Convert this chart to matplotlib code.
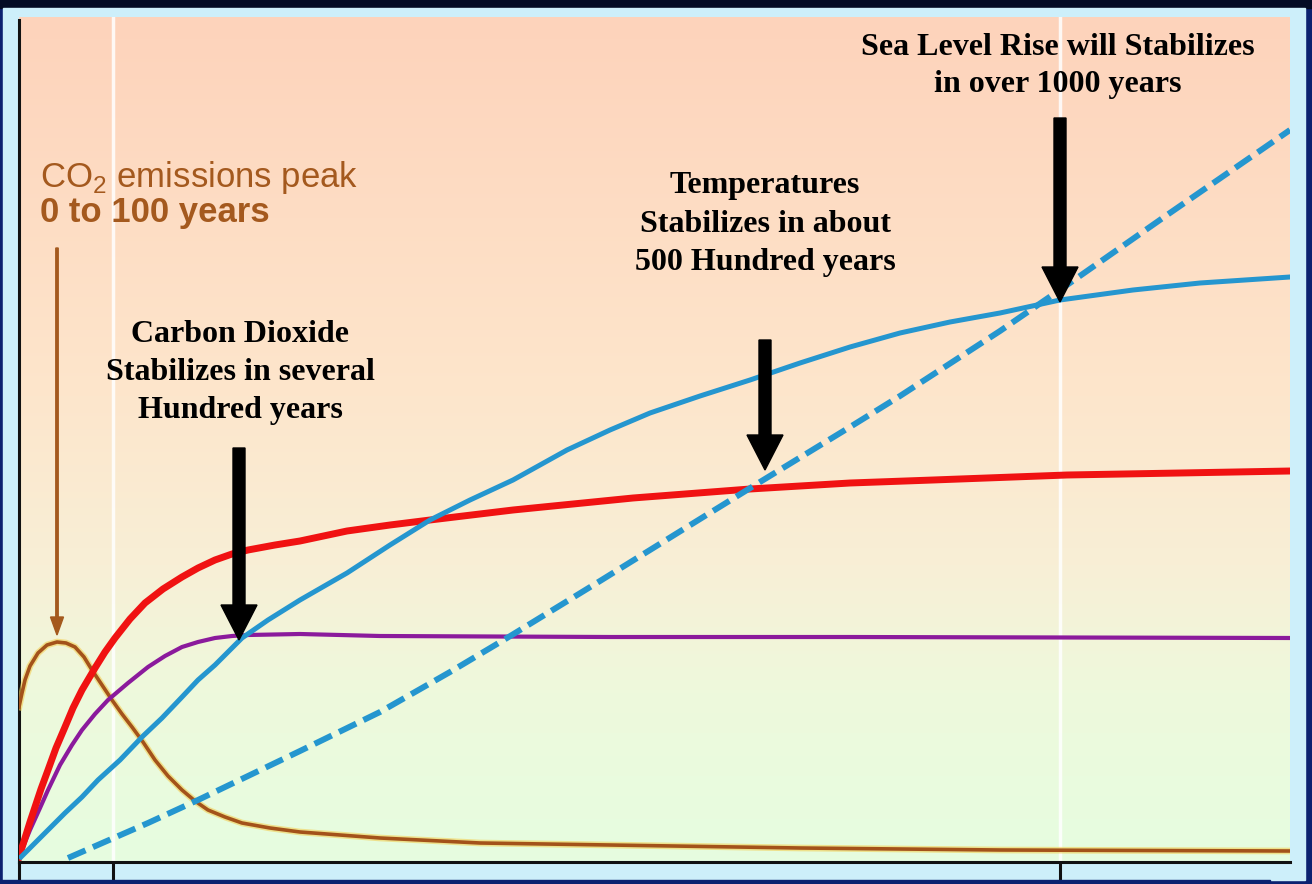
import numpy as np
import matplotlib
matplotlib.use("Agg")
import matplotlib.pyplot as plt
from matplotlib.colors import LinearSegmentedColormap
from matplotlib.patches import Rectangle
import matplotlib.patheffects as pe

plt.rcParams['mathtext.fontset'] = 'custom'
plt.rcParams['mathtext.rm'] = 'Liberation Sans'

# values (arbitrary time units / arbitrary response units)
emis_x = [0, 3, 6, 11, 19, 28, 38, 47, 56, 65, 73, 83, 93, 103, 113, 124, 136, 149, 163, 176,
          189, 206, 223, 251, 281, 361, 461, 591, 781, 981, 1271]
emis_y = [155, 169, 182, 196, 209, 217, 220, 219, 215, 205, 192, 177, 162, 148, 135, 120, 102, 86, 72, 61,
          52, 45, 39, 34, 30, 24, 19, 17, 14, 12, 11]

temp_x = [0, 6, 11, 16, 22, 29, 37, 46, 54, 63, 76, 86, 96, 111, 126, 144, 163, 179, 196, 213, 229,
          256, 281, 328, 371, 411, 494, 614, 731, 831, 914, 1048, 1161, 1271]
temp_y = [5, 24, 40, 55, 73, 92, 114, 135, 154, 172, 194, 210, 224, 243, 259, 273, 285, 294, 302, 308, 312,
          317, 321, 331, 337, 342, 352, 364, 373, 379, 382, 387, 389, 391]

co2_x = [0, 11, 21, 29, 41, 53, 63, 76, 89, 109, 129, 146, 163, 179, 196, 213, 229, 281, 361, 591, 831, 1271]
co2_y = [5, 32, 54, 72, 97, 117, 132, 148, 162, 179, 195, 206, 215, 220, 224, 226, 227, 228, 226, 225, 225, 224]

thermal_x = [2, 24, 46, 63, 79, 101, 123, 143, 163, 179, 196, 223, 249, 281, 328, 371, 411, 451, 494,
             548, 591, 631, 681, 731, 781, 831, 881, 931, 981, 1041, 1114, 1181, 1271]
thermal_y = [5, 27, 49, 65, 82, 102, 125, 144, 165, 182, 197, 224, 242, 262, 289, 317, 342, 362, 382,
             412, 432, 449, 466, 482, 499, 515, 529, 540, 549, 562, 572, 579, 585]

ice_x = [49, 129, 179, 229, 281, 361, 431, 488, 581, 681, 741, 831, 881, 981, 1048, 1148, 1271]
ice_y = [4, 39, 62, 86, 111, 150, 190, 224, 281, 343, 380, 435, 466, 531, 577, 647, 732]

tick_pos = [0, 94, 1041]

fig = plt.figure(figsize=(13.12, 8.84), dpi=100, facecolor='#0b2170')
W, H = 1312, 884

# frame pieces (behind the axes)
fig.patches.append(Rectangle((0, 1 - 8 / H), 1, 8 / H, transform=fig.transFigure,
                             color='#030b24', zorder=-2))
fig.patches.append(Rectangle((3 / W, 4 / H), 1302 / W, 872 / H, transform=fig.transFigure,
                             color='#cdeffa', zorder=-1))

ax = fig.add_axes([19 / W, 22 / H, 1271 / W, 845 / H])
ax.set_xlim(0, 1271)
ax.set_ylim(0, 845)

cmap = LinearSegmentedColormap.from_list(
    'bg', [(0, '#e6fde0'), (0.2, '#eef9dc'), (0.35, '#f8efd6'), (0.55, '#fde6cc'), (1, '#fdd3bb')])
grad = np.linspace(0, 1, 256).reshape(-1, 1)
ax.imshow(grad, cmap=cmap, origin='lower', aspect='auto', extent=[0, 1271, 0, 845], zorder=0)

for x in tick_pos[1:]:
    ax.axvline(x, color='white', lw=2.5, alpha=0.85, zorder=1)

ax.plot(emis_x, emis_y, color='#a3521a', lw=2.6, zorder=3, solid_joinstyle='round',
        path_effects=[pe.Stroke(linewidth=4.8, foreground='#f3cf55', alpha=0.6), pe.Normal()])
ax.plot(co2_x, co2_y, color='#8b1a9c', lw=3, zorder=3, solid_joinstyle='round')
ax.plot(temp_x, temp_y, color='#f01212', lw=5, zorder=3, solid_joinstyle='round')
ax.plot(thermal_x, thermal_y, color='#2596cf', lw=3.6, zorder=4, solid_joinstyle='round')
ax.plot(ice_x, ice_y, color='#2596cf', lw=4.3, dashes=(3.2, 1.35),
        dash_capstyle='butt', zorder=4)

for s in ['top', 'right']:
    ax.spines[s].set_visible(False)
for s in ['left', 'bottom']:
    ax.spines[s].set_linewidth(2.2)
    ax.spines[s].set_color('#111111')
ax.spines['left'].set_bounds(0, 842)
ax.set_xticks(tick_pos)
ax.set_xticklabels([])
ax.set_yticks([])
ax.tick_params(axis='x', direction='out', length=13, width=2.2, color='#111111')

# annotations
brown = '#a4591e'
ax.text(21, 675, r'CO$_\mathrm{2}$ emissions peak', color=brown, fontsize=25,
        family='Liberation Sans', va='baseline', ha='left', zorder=5)
ax.text(21, 640, '0 to 100 years', color=brown, fontsize=25, fontweight='bold',
        family='Liberation Sans', va='baseline', ha='left', zorder=5)
ax.arrow(38, 614, 0, 227 - 614, width=2.4, head_width=13, head_length=18,
         length_includes_head=True, color=brown, zorder=5)

blocks = [
    (221, [520, 482, 444], ['Carbon Dioxide', 'Stabilizes in several', 'Hundred years']),
    (746, [669, 630, 592], ['Temperatures', 'Stabilizes in about', '500 Hundred years']),
    (1039, [807, 770], ['Sea Level Rise will Stabilizes', 'in over 1000 years']),
]
for cx, ys, lines in blocks:
    for y, t in zip(ys, lines):
        ax.text(cx, y, t, fontsize=23, fontweight='bold', family='Liberation Serif',
                ha='center', va='baseline', color='black', zorder=5)

arrows = [(220, 414, 222), (746, 522, 392), (1041, 744, 560)]
for x, y0, y1 in arrows:
    ax.arrow(x, y0, 0, y1 - y0, width=12, head_width=36, head_length=35,
             length_includes_head=True, color='black', zorder=6)

fig.patches.append(Rectangle((0, 0), 1270 / W, 4 / H, transform=fig.transFigure,
                             color='#0b2170', zorder=10))

fig.savefig('out.png', dpi=100, facecolor=fig.get_facecolor())
